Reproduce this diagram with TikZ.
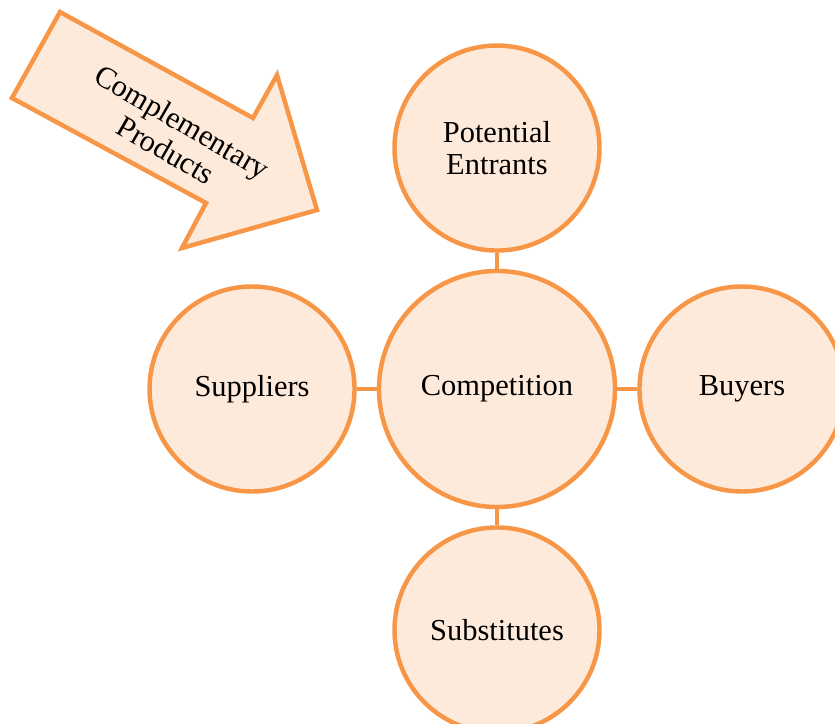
\documentclass[tikz,border=0pt]{standalone}
\usepackage{fontspec}
\setmainfont{Liberation Serif}
\usetikzlibrary{positioning,backgrounds}
\definecolor{ForceOrange}{HTML}{F79646}
\definecolor{ForcePeach}{HTML}{FDEADA}
\definecolor{ForceShade}{gray}{0.45}

\begin{document}
\begin{tikzpicture}[x=0.03cm,y=-0.03cm,
  force/.style={circle,draw=ForceOrange,fill=ForcePeach,line width=3.8pt,minimum size=6.15cm,inner sep=0pt,align=center,font=\fontsize{26}{28}\selectfont},
  core/.style={force,minimum size=7.08cm},
  blockarrow/.style={draw=ForceOrange,fill=ForcePeach,line width=3.8pt},
  link/.style={draw=ForceOrange,line width=2.8pt},
  linkshade/.style={draw=ForceShade,line width=3.4pt,opacity=0.55},
  node distance=0.48cm and 0.6cm]
  \useasboundingbox (0,0) rectangle (835,724);
  \clip (0,0) rectangle (835,724);
  % five forces
  \node[core] (comp) at (497,389) {Competition};
  \node[force,above=of comp] (entrants) {Potential\\Entrants};
  \node[force,below=of comp] (subs) {Substitutes};
  \node[force,left=of comp] (suppliers) {Suppliers};
  \node[force,right=of comp] (buyers) {Buyers};
  % short links with a soft shadow
  \begin{scope}[on background layer]
    \foreach \n in {entrants,subs,suppliers,buyers}{
      \draw[linkshade,shift={(2,3)}] (comp) -- (\n);
      \draw[link] (comp) -- (\n);
    }
  \end{scope}
  % complementary products arrow
  \draw[blockarrow] (60,12) -- (253,118) -- (277,75) -- (317,210)
    -- (182,248) -- (206,203) -- (12,98) -- cycle;
  \node[rotate=-30,align=center,font=\fontsize{26}{28}\selectfont] (compl) at (174,136) {Complementary\\Products};
\end{tikzpicture}
\end{document}
